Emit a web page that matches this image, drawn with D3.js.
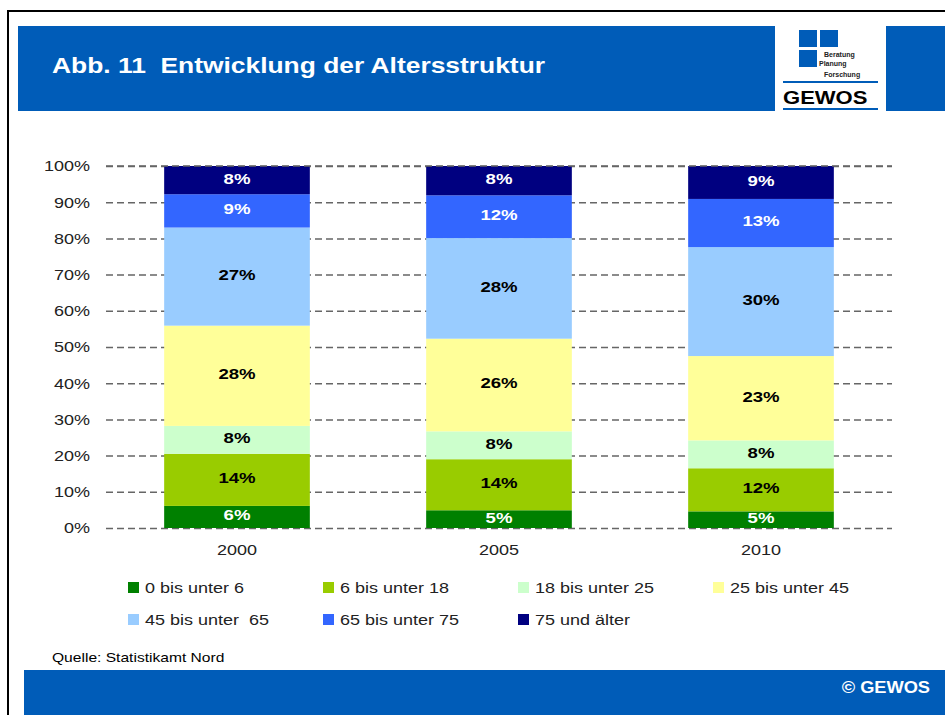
<!DOCTYPE html>
<html>
<head>
<meta charset="utf-8">
<script src="https://cdn.jsdelivr.net/npm/d3@7"></script>
<style>
  body { margin: 0; background: #fff; }
  text { font-family: Arial, "Liberation Sans", sans-serif; }
</style>
</head>
<body>
<div id="chart"></div>
<script>
// data (shares in %)
const years = ["2000", "2005", "2010"];
const groups = ["0 bis unter 6", "6 bis unter 18", "18 bis unter 25", "25 bis unter 45",
  "45 bis unter  65", "65 bis unter 75", "75 und älter"];
const s0_6 = [6.1, 4.9, 4.6];
const s6_18 = [14.4, 14.1, 11.9];
const s18_25 = [7.7, 7.7, 7.7];
const s25_45 = [27.7, 25.6, 23.3];
const s45_65 = [27.1, 27.8, 30.1];
const s65_75 = [9.2, 11.8, 13.3];
const s75 = [7.8, 8.1, 9.1];
const yTicks = [0, 10, 20, 30, 40, 50, 60, 70, 80, 90, 100];

const colors = ["#008000", "#99CC00", "#CCFFCC", "#FFFF99", "#99CCFF", "#3366FF", "#000080"];
const labelColors = ["#fff", "#000", "#000", "#000", "#000", "#fff", "#fff"];
const series = [s0_6, s6_18, s18_25, s25_45, s45_65, s65_75, s75];

const rows = years.map((yr, i) => {
  const r = { year: yr };
  groups.forEach((g, k) => { r[g] = series[k][i]; });
  return r;
});

const W = 945, H = 715, blue = "#005CB8";
const SX = 1.2; // the original picture is stretched sideways

// move x/y of a text into a transform and widen it
function stretch(sel, sx) {
  sel.each(function () {
    const t = d3.select(this);
    const tx = +t.attr("x") || 0, ty = +t.attr("y") || 0;
    t.attr("x", 0).attr("y", 0)
      .attr("transform", `translate(${tx},${ty}) scale(${sx},1)`);
  });
}

const svg = d3.select("#chart").append("svg")
  .attr("width", W).attr("height", H);

// frame
svg.append("path")
  .attr("d", "M8,716 L8,11 L946,11")
  .attr("fill", "none").attr("stroke", "#000").attr("stroke-width", 2);

// header band
svg.append("rect").attr("x", 18).attr("y", 26).attr("width", 757).attr("height", 85).attr("fill", blue);
svg.append("rect").attr("x", 886).attr("y", 26).attr("width", 60).attr("height", 85).attr("fill", blue);
svg.append("text")
  .attr("x", 52).attr("y", 73)
  .attr("fill", "#fff").attr("font-size", 22).attr("font-weight", "bold")
  .style("white-space", "pre")
  .text("Abb. 11  Entwicklung der Altersstruktur")
  .call(stretch, SX);

// logo
const logo = svg.append("g");
logo.append("rect").attr("x", 799).attr("y", 30).attr("width", 18).attr("height", 17).attr("fill", blue);
logo.append("rect").attr("x", 820).attr("y", 30).attr("width", 18).attr("height", 17).attr("fill", blue);
logo.append("rect").attr("x", 799).attr("y", 50).attr("width", 18).attr("height", 17).attr("fill", blue);
[["Beratung", 824, 57], ["Planung", 819, 66], ["Forschung", 824, 77]].forEach(([t, lx, ly]) => {
  logo.append("text").attr("x", lx).attr("y", ly)
    .attr("font-size", 7).attr("font-weight", "bold").attr("fill", "#222").text(t);
});
logo.append("rect").attr("x", 783).attr("y", 81).attr("width", 95).attr("height", 2).attr("fill", blue);
logo.append("rect").attr("x", 783).attr("y", 108).attr("width", 95).attr("height", 2).attr("fill", blue);
logo.append("text").attr("x", 783).attr("y", 104)
  .attr("font-size", 19).attr("font-weight", "bold").attr("fill", "#000").text("GEWOS")
  .call(stretch, 1.16);

// plot area
const plotLeft = 106, plotRight = 892, plotTop = 166, plotBottom = 528;

const x = d3.scaleBand().domain(years).range([plotLeft, plotRight]).paddingInner(0.444).paddingOuter(0.222);
const y = d3.scaleLinear().domain([0, 100]).range([plotBottom, plotTop]);

// grid + y labels
const yAxis = svg.append("g")
  .attr("transform", `translate(${plotLeft},0)`)
  .call(d3.axisLeft(y).tickValues(yTicks).tickSize(-(plotRight - plotLeft)).tickPadding(16)
    .tickFormat(d => d + "%"));
yAxis.select(".domain").remove();
yAxis.selectAll(".tick line")
  .attr("stroke", "#666").attr("stroke-width", 1.5).attr("stroke-dasharray", "7,4");
yAxis.selectAll(".tick text")
  .attr("font-size", 15).attr("fill", "#222").style("font-family", "Arial, 'Liberation Sans', sans-serif")
  .call(stretch, SX);

const stack = d3.stack().keys(groups)(rows);

const layers = svg.append("g").selectAll("g")
  .data(stack).enter().append("g")
  .attr("fill", (d, i) => colors[i]);

layers.selectAll("rect")
  .data(d => d).enter().append("rect")
  .attr("x", d => x(d.data.year))
  .attr("width", x.bandwidth())
  .attr("y", d => y(d[1]))
  .attr("height", d => y(d[0]) - y(d[1]));

// top gridline shows over the bars in the original
svg.append("line")
  .attr("x1", plotLeft).attr("x2", plotRight).attr("y1", y(100)).attr("y2", y(100))
  .attr("stroke", "#666").attr("stroke-width", 1.5).attr("stroke-dasharray", "7,4");

// segment labels
stack.forEach((layer, i) => {
  svg.append("g").selectAll("text")
    .data(layer).enter().append("text")
    .attr("x", d => x(d.data.year) + x.bandwidth() / 2)
    .attr("y", d => y((d[0] + d[1]) / 2))
    .attr("dy", "0.22em")
    .attr("text-anchor", "middle")
    .attr("font-size", 15.5).attr("font-weight", "bold")
    .attr("fill", labelColors[i])
    .text(d => Math.round(d[1] - d[0]) + "%")
    .call(stretch, SX);
});

// x labels
const xAxis = svg.append("g")
  .attr("transform", `translate(0,${plotBottom})`)
  .call(d3.axisBottom(x).tickSize(0).tickPadding(16));
xAxis.select(".domain").remove();
xAxis.selectAll(".tick text")
  .attr("font-size", 15).attr("fill", "#222").style("font-family", "Arial, 'Liberation Sans', sans-serif")
  .call(stretch, SX);

// legend
const legend = svg.append("g").selectAll("g")
  .data(groups).enter().append("g")
  .attr("transform", (d, i) => `translate(${128 + (i % 4) * 195},${582 + Math.floor(i / 4) * 32})`);
legend.append("rect").attr("width", 11).attr("height", 11).attr("fill", (d, i) => colors[i]);
legend.append("text")
  .attr("x", 17).attr("y", 11)
  .attr("font-size", 15).attr("fill", "#222")
  .style("white-space", "pre")
  .text(d => d)
  .call(stretch, SX);

// source + footer
svg.append("text").attr("x", 52).attr("y", 662)
  .attr("font-size", 13).attr("fill", "#000").text("Quelle: Statistikamt Nord")
  .call(stretch, SX);
svg.append("rect").attr("x", 24).attr("y", 670).attr("width", 922).attr("height", 46).attr("fill", blue);
svg.append("text").attr("x", 930).attr("y", 693)
  .attr("text-anchor", "end")
  .attr("font-size", 16).attr("font-weight", "bold").attr("fill", "#fff").text("© GEWOS")
  .call(stretch, 1.14);
</script>
</body>
</html>
